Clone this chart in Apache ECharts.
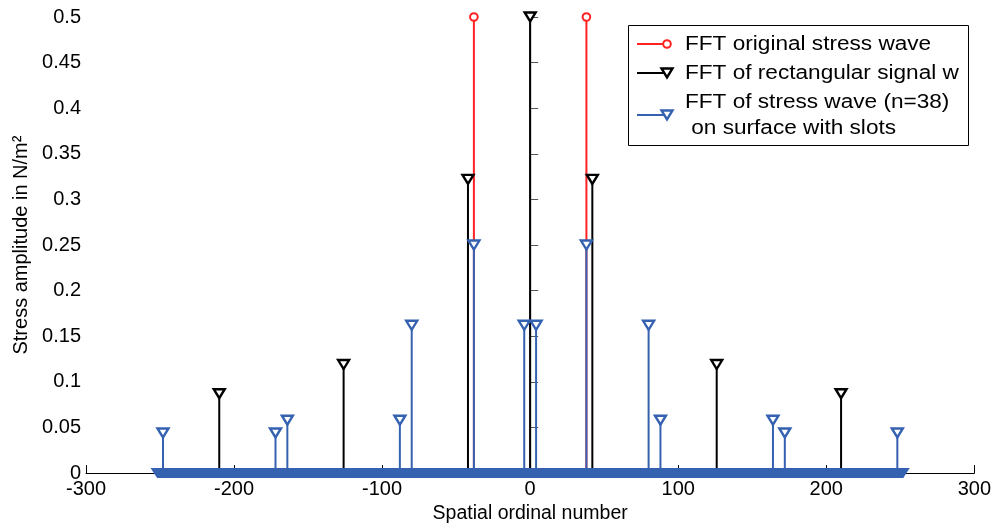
<!DOCTYPE html>
<html>
<head>
<meta charset="utf-8">
<script src="https://cdn.jsdelivr.net/npm/echarts@6/dist/echarts.min.js"></script>
<style>
html,body{margin:0;padding:0;background:#fff;}
#chart{width:994px;height:529px;}
</style>
</head>
<body>
<div id="chart"></div>
<script>
// ---- data ----
const xTicks = [-300, -200, -100, 0, 100, 200, 300];
const yTicks = [0, 0.05, 0.1, 0.15, 0.2, 0.25, 0.3, 0.35, 0.4, 0.45, 0.5];
const redX = [-38, 38];
const redY = [0.5, 0.5];
const blackX = [-210, -126, -42, 0, 42, 126, 210];
const blackY = [0.087, 0.119, 0.322, 0.5, 0.322, 0.119, 0.087];
const blueX = [-248, -172, -164, -88, -80, -38, -4, 4, 38, 80, 88, 164, 172, 248];
const blueY = [0.044, 0.044, 0.058, 0.058, 0.162, 0.25, 0.162, 0.162, 0.25, 0.162, 0.058, 0.058, 0.044, 0.044];
const blueZeroX = [-252, 252];   // extent of the zero-valued blue stems (dense marker band)
const blueZeroY = [0, 0];
const legendNames = ['FFT original stress wave', 'FFT of rectangular signal w', 'FFT of stress wave (n=38)', ' on surface with slots'];

const RED = '#ff2222', BLACK = '#000000', BLUE = '#3561b1';
const FONT = 'Liberation Sans, Arial, sans-serif';

function pairs(xs, ys) { return xs.map((x, i) => [x, ys[i]]); }

function triPts(cx, cy) { return [[cx - 5.5, cy - 4.5], [cx + 5.5, cy - 4.5], [cx, cy + 4.5]]; }

function stem(kind, color) {
  return function (params, api) {
    const x = api.value(0), y = api.value(1);
    const p0 = api.coord([x, 0]), p1 = api.coord([x, y]);
    const children = [{
      type: 'line',
      shape: { x1: p0[0], y1: p0[1], x2: p1[0], y2: p1[1] },
      style: { stroke: color, lineWidth: 2 }
    }];
    if (kind === 'circle') {
      children.push({ type: 'circle', shape: { cx: p1[0], cy: p1[1], r: 3.8 },
        style: { stroke: color, fill: '#fff', lineWidth: 2 } });
    } else {
      children.push({ type: 'polygon', shape: { points: triPts(p1[0], p1[1]) },
        style: { stroke: color, fill: '#fff', lineWidth: 2.4 } });
    }
    return { type: 'group', children };
  };
}

function legendIcon(y, color, kind) {
  const els = [{ type: 'line', shape: { x1: 637, y1: y, x2: 667, y2: y }, style: { stroke: color, lineWidth: 2 } }];
  if (kind === 'circle') {
    els.push({ type: 'circle', shape: { cx: 667, cy: y, r: 3.8 }, style: { stroke: color, fill: '#fff', lineWidth: 2 } });
  } else {
    els.push({ type: 'polygon', shape: { points: triPts(667, y) }, style: { stroke: color, fill: '#fff', lineWidth: 2.4 } });
  }
  return els.map(e => Object.assign(e, { z: 101 }));
}
function legendText(x, y, t) {
  return { type: 'text', x: x, y: y, scaleX: 1.13, z: 101,
    style: { text: t, fill: '#000', font: '20px ' + FONT, textVerticalAlign: 'middle' } };
}

const chart = echarts.init(document.getElementById('chart'));
chart.setOption({
  backgroundColor: '#fff',
  animation: false,
  grid: { left: 86, right: 19, top: 17, bottom: 53 },
  xAxis: {
    type: 'value', min: xTicks[0], max: xTicks[xTicks.length - 1], interval: 100,
    name: 'Spatial ordinal number', nameLocation: 'middle', nameGap: 22,
    nameTextStyle: { fontFamily: FONT, fontSize: 19.5, color: '#000' },
    axisLine: { lineStyle: { color: '#000', width: 1 } },
    axisTick: { inside: true, length: 8, lineStyle: { color: '#000' } },
    axisLabel: { fontFamily: FONT, fontSize: 20, color: '#000', margin: 6 },
    splitLine: { show: false }
  },
  yAxis: {
    type: 'value', min: yTicks[0], max: yTicks[yTicks.length - 1], interval: 0.05,
    name: 'Stress amplitude in N/m²', nameLocation: 'middle', nameGap: 51,
    nameTextStyle: { fontFamily: FONT, fontSize: 20, color: '#000' },
    axisLine: { show: true, lineStyle: { color: '#666', width: 2 } },
    axisTick: { show: true, inside: true, length: 8, lineStyle: { color: '#555' } },
    axisLabel: { fontFamily: FONT, fontSize: 20, color: '#000', margin: 5 },
    splitLine: { show: false }
  },
  series: [
    { type: 'custom', name: legendNames[0], data: pairs(redX, redY), renderItem: stem('circle', RED), z: 2 },
    { type: 'custom', name: legendNames[1], data: pairs(blackX, blackY), renderItem: stem('tri', BLACK), z: 3 },
    { type: 'custom', name: legendNames[2], data: pairs(blueX, blueY), renderItem: stem('tri', BLUE), z: 4 },
    { type: 'line', data: pairs(blueZeroX, blueZeroY),
      symbol: 'triangle', symbolRotate: 180, symbolSize: [13, 10], showAllSymbol: true,
      itemStyle: { color: BLUE, borderColor: BLUE, borderWidth: 0 },
      lineStyle: { color: BLUE, width: 10 }, z: 5 }
  ],
  graphic: [
    { type: 'rect', shape: { x: 628.5, y: 25.5, width: 340, height: 120 },
      style: { stroke: '#000', fill: '#fff', lineWidth: 1 }, z: 100 },
    ...legendIcon(44, RED, 'circle'),
    ...legendIcon(73, BLACK, 'tri'),
    ...legendIcon(115, BLUE, 'tri'),
    legendText(685, 44, legendNames[0]),
    legendText(685, 73, legendNames[1]),
    legendText(685, 102, legendNames[2]),
    legendText(685, 128, legendNames[3])
  ]
});
</script>
</body>
</html>
